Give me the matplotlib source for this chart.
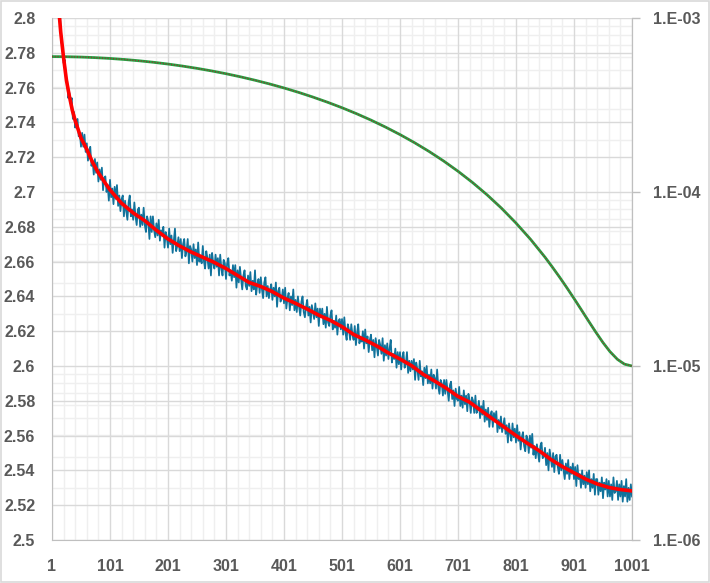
import matplotlib
matplotlib.use("Agg")
import matplotlib.pyplot as plt
from matplotlib.ticker import FixedLocator, FuncFormatter, NullFormatter, LogLocator
from matplotlib.patches import Rectangle
import numpy as np

# ---------------- data ----------------
x_ticks = [1, 101, 201, 301, 401, 501, 601, 701, 801, 901, 1001]
left_ticks = [2.5, 2.52, 2.54, 2.56, 2.58, 2.6, 2.62, 2.64, 2.66, 2.68, 2.7, 2.72, 2.74, 2.76, 2.78, 2.8]
right_ticks = [1e-6, 1e-5, 1e-4, 1e-3]

# raw (noisy) loss, sampled every 2 steps
loss_steps = list(range(1, 1002, 2))
loss_raw = [
    2.882, 2.861, 2.852, 2.832, 2.826, 2.808, 2.806, 2.801, 2.786, 2.784,
    2.774, 2.776, 2.765, 2.765, 2.754, 2.757, 2.751, 2.754, 2.742, 2.746,
    2.737, 2.741, 2.742, 2.732, 2.734, 2.726, 2.734, 2.726, 2.733, 2.723,
    2.728, 2.718, 2.724, 2.726, 2.715, 2.718, 2.710, 2.719, 2.711, 2.717,
    2.706, 2.713, 2.707, 2.714, 2.701, 2.708, 2.709, 2.700, 2.704, 2.695,
    2.707, 2.697, 2.702, 2.693, 2.703, 2.696, 2.704, 2.692, 2.698, 2.689,
    2.696, 2.698, 2.686, 2.695, 2.689, 2.684, 2.694, 2.698, 2.686, 2.690,
    2.684, 2.694, 2.686, 2.681, 2.690, 2.691, 2.680, 2.687, 2.681, 2.691,
    2.681, 2.677, 2.686, 2.683, 2.673, 2.686, 2.677, 2.686, 2.678, 2.674,
    2.682, 2.675, 2.684, 2.672, 2.678, 2.675, 2.680, 2.668, 2.677, 2.674,
    2.668, 2.679, 2.670, 2.675, 2.665, 2.672, 2.679, 2.666, 2.669, 2.674,
    2.666, 2.673, 2.662, 2.670, 2.673, 2.663, 2.666, 2.673, 2.659, 2.669,
    2.667, 2.660, 2.670, 2.662, 2.667, 2.658, 2.671, 2.660, 2.663, 2.659,
    2.669, 2.660, 2.656, 2.666, 2.662, 2.656, 2.664, 2.652, 2.665, 2.659,
    2.656, 2.664, 2.657, 2.662, 2.652, 2.664, 2.656, 2.652, 2.661, 2.659,
    2.650, 2.659, 2.662, 2.652, 2.655, 2.649, 2.658, 2.651, 2.658, 2.645,
    2.655, 2.648, 2.657, 2.650, 2.644, 2.652, 2.655, 2.646, 2.644, 2.652,
    2.646, 2.654, 2.643, 2.649, 2.644, 2.655, 2.641, 2.647, 2.650, 2.642,
    2.651, 2.644, 2.639, 2.648, 2.651, 2.640, 2.646, 2.639, 2.644, 2.647,
    2.638, 2.645, 2.640, 2.648, 2.634, 2.643, 2.645, 2.637, 2.639, 2.644,
    2.636, 2.645, 2.633, 2.639, 2.642, 2.632, 2.640, 2.635, 2.644, 2.632,
    2.638, 2.631, 2.640, 2.634, 2.629, 2.637, 2.640, 2.631, 2.628, 2.634,
    2.638, 2.629, 2.634, 2.625, 2.635, 2.631, 2.627, 2.636, 2.628, 2.633,
    2.623, 2.633, 2.628, 2.633, 2.624, 2.630, 2.622, 2.634, 2.625, 2.623,
    2.629, 2.632, 2.621, 2.626, 2.622, 2.629, 2.618, 2.626, 2.627, 2.621,
    2.627, 2.618, 2.628, 2.619, 2.615, 2.624, 2.621, 2.615, 2.624, 2.618,
    2.615, 2.623, 2.612, 2.619, 2.624, 2.613, 2.616, 2.614, 2.620, 2.610,
    2.621, 2.613, 2.617, 2.608, 2.615, 2.618, 2.609, 2.615, 2.605, 2.616,
    2.611, 2.606, 2.615, 2.612, 2.607, 2.616, 2.603, 2.612, 2.606, 2.613,
    2.604, 2.610, 2.615, 2.602, 2.607, 2.604, 2.610, 2.599, 2.608, 2.601,
    2.608, 2.598, 2.605, 2.608, 2.599, 2.601, 2.608, 2.596, 2.603, 2.597,
    2.603, 2.598, 2.604, 2.592, 2.602, 2.598, 2.592, 2.603, 2.594, 2.597,
    2.589, 2.599, 2.593, 2.600, 2.590, 2.595, 2.590, 2.598, 2.587, 2.595,
    2.593, 2.587, 2.598, 2.588, 2.584, 2.592, 2.590, 2.583, 2.592, 2.584,
    2.592, 2.586, 2.580, 2.589, 2.591, 2.581, 2.586, 2.577, 2.587, 2.581,
    2.580, 2.588, 2.577, 2.583, 2.576, 2.586, 2.578, 2.583, 2.574, 2.584,
    2.580, 2.573, 2.582, 2.580, 2.573, 2.583, 2.573, 2.575, 2.580, 2.570,
    2.577, 2.572, 2.580, 2.568, 2.575, 2.569, 2.576, 2.565, 2.572, 2.574,
    2.565, 2.573, 2.568, 2.574, 2.562, 2.569, 2.564, 2.571, 2.562, 2.566,
    2.570, 2.561, 2.566, 2.556, 2.567, 2.561, 2.557, 2.567, 2.559, 2.564,
    2.556, 2.566, 2.557, 2.562, 2.552, 2.559, 2.562, 2.554, 2.551, 2.560,
    2.558, 2.550, 2.560, 2.553, 2.561, 2.549, 2.554, 2.547, 2.555, 2.550,
    2.545, 2.554, 2.556, 2.547, 2.548, 2.553, 2.543, 2.550, 2.540, 2.552,
    2.547, 2.542, 2.550, 2.539, 2.548, 2.549, 2.542, 2.538, 2.549, 2.540,
    2.546, 2.540, 2.535, 2.544, 2.538, 2.546, 2.535, 2.542, 2.538, 2.544,
    2.535, 2.542, 2.531, 2.543, 2.535, 2.538, 2.530, 2.540, 2.532, 2.537,
    2.530, 2.539, 2.532, 2.540, 2.528, 2.535, 2.530, 2.538, 2.526, 2.535,
    2.535, 2.526, 2.533, 2.528, 2.536, 2.524, 2.533, 2.529, 2.535, 2.525,
    2.534, 2.525, 2.532, 2.523, 2.536, 2.527, 2.528, 2.534, 2.523, 2.532,
    2.525, 2.534, 2.522, 2.531, 2.525, 2.535, 2.522, 2.530, 2.523, 2.532,
    2.525]

# smoothed loss
smooth_steps = [1, 6, 11, 16, 21, 26, 31, 36, 41, 51, 61, 71, 81, 91, 101, 121, 141, 161, 181,
                201, 221, 241, 261, 281, 301, 321, 341, 361, 381, 401, 421, 441, 461, 481,
                501, 521, 541, 561, 581, 601, 621, 641, 661, 681, 701, 721, 741, 761, 781,
                801, 821, 841, 861, 881, 901, 921, 941, 961, 981, 1001]
loss_smooth = [2.880, 2.840, 2.812, 2.792, 2.777, 2.764, 2.755, 2.747, 2.741, 2.731, 2.7245,
               2.717, 2.711, 2.706, 2.7012, 2.6935, 2.688, 2.6835, 2.678,
               2.673, 2.669, 2.6655, 2.6625, 2.6595, 2.656, 2.652, 2.648, 2.6457, 2.6427,
               2.639, 2.636, 2.6327, 2.6292, 2.6262,
               2.6226, 2.6181, 2.615, 2.6115, 2.6075, 2.604, 2.6002, 2.5952, 2.5913, 2.5872,
               2.5825, 2.5792, 2.5743, 2.5695, 2.5648,
               2.560, 2.5555, 2.5513, 2.5463, 2.5422, 2.5386, 2.5350, 2.5322, 2.5302, 2.5290,
               2.5282]

# learning rate (right axis, log)
lr_steps = [1, 26, 51, 76, 101, 126, 151, 176, 201, 226, 251, 276, 301, 326, 351, 376, 401,
            426, 451, 476, 501, 526, 551, 576, 601, 626, 651, 676, 701, 726, 751, 776, 801,
            826, 851, 863, 876, 888, 901, 913, 926, 938, 951, 963, 976, 988, 1001]
lr = [6.0e-4, 5.991e-4, 5.964e-4, 5.918e-4, 5.856e-4, 5.775e-4, 5.678e-4, 5.565e-4,
      5.437e-4, 5.293e-4, 5.136e-4, 4.966e-4, 4.784e-4, 4.591e-4, 4.389e-4, 4.179e-4,
      3.962e-4, 3.739e-4, 3.511e-4, 3.281e-4, 3.05e-4, 2.819e-4, 2.589e-4, 2.361e-4,
      2.138e-4, 1.921e-4, 1.711e-4, 1.509e-4, 1.316e-4, 1.134e-4, 9.64e-5, 8.07e-5,
      6.63e-5, 5.35e-5, 4.22e-5, 3.729e-5, 3.246e-5, 2.839e-5, 2.444e-5, 2.120e-5,
      1.815e-5, 1.576e-5, 1.363e-5, 1.210e-5, 1.091e-5, 1.025e-5, 1.0e-5]

# ---------------- style ----------------
TXT = "#595959"
MAJ = "#d9d9d9"
MIN = "#efefef"
font = dict(family=["Liberation Sans", "DejaVu Sans"], size=11.5, weight="bold", color=TXT)

fig = plt.figure(figsize=(7.10, 5.83), dpi=100)
fig.patches.append(Rectangle((0.001, 0.001), 0.998, 0.997, transform=fig.transFigure,
                             fill=False, edgecolor="#d9d9d9", lw=1.2))

ax = fig.add_axes([52 / 710, 43 / 583, 580 / 710, 522 / 583])
ax2 = ax.twinx()
ax.set_zorder(ax2.get_zorder() + 1)
ax.patch.set_visible(False)
ax2.patch.set_visible(True)
ax2.patch.set_facecolor("white")

# right log axis
ax2.set_yscale("log")
ax2.set_ylim(1e-6, 1e-3)
ax2.set_xlim(1, 1001)
ax2.yaxis.set_major_locator(FixedLocator(right_ticks))
ax2.yaxis.set_major_formatter(FuncFormatter(lambda v, p: "1.E-%02d" % round(-np.log10(v))))
ax2.yaxis.set_minor_locator(LogLocator(base=10, subs=np.arange(2, 10)))
ax2.yaxis.set_minor_formatter(NullFormatter())
ax2.grid(True, which="minor", axis="y", color=MIN, lw=1.0)
ax2.tick_params(axis="y", which="major", length=6, width=1, color="#bfbfbf", pad=9)
ax2.tick_params(axis="y", which="minor", length=0)
for lab in ax2.get_yticklabels():
    lab.set(**font)

# main axis
ax.set_xlim(1, 1001)
ax.set_ylim(2.5, 2.8)
ax.xaxis.set_major_locator(FixedLocator(x_ticks))
ax.xaxis.set_minor_locator(FixedLocator(list(range(1, 1002, 20))))
ax.yaxis.set_major_locator(FixedLocator(left_ticks))
ax.yaxis.set_major_formatter(FuncFormatter(lambda v, p: "%g" % round(v, 2)))
ax.xaxis.set_major_formatter(FuncFormatter(lambda v, p: "%d" % round(v)))
ax.grid(True, which="major", color=MAJ, lw=1.0, zorder=0)
ax.grid(True, which="minor", axis="x", color=MIN, lw=1.0, zorder=0)
ax.set_axisbelow(True)
ax.tick_params(axis="both", which="both", length=0)
ax.tick_params(axis="x", pad=14)
ax.tick_params(axis="y", pad=12)
for lab in ax.get_xticklabels() + ax.get_yticklabels():
    lab.set(**font)

# learning-rate curve drawn in the top layer, using the right (log) axis scale
ax.plot(lr_steps, lr, color="#25a244", lw=2.0, solid_capstyle="butt", zorder=3,
        transform=ax2.transData, scalex=False, scaley=False)
ax.plot(lr_steps, lr, color="#a0282a", lw=1.0, dashes=(0.7, 1.3), zorder=3.1,
        transform=ax2.transData, scalex=False, scaley=False)

ax.plot(loss_steps[:len(loss_raw)], loss_raw, color="#11729b", lw=1.25, zorder=4)
ax.plot(smooth_steps, loss_smooth, color="#ff0000", lw=2.6, zorder=5)
ax.set_xlim(1, 1001)
ax.set_ylim(2.5, 2.8)

for a in (ax, ax2):
    a.spines["top"].set_visible(False)
    for s in ("left", "bottom", "right"):
        a.spines[s].set_color("#bfbfbf")
ax2.spines["left"].set_visible(False)
ax2.spines["bottom"].set_visible(False)

fig.savefig("out.png", dpi=100)
